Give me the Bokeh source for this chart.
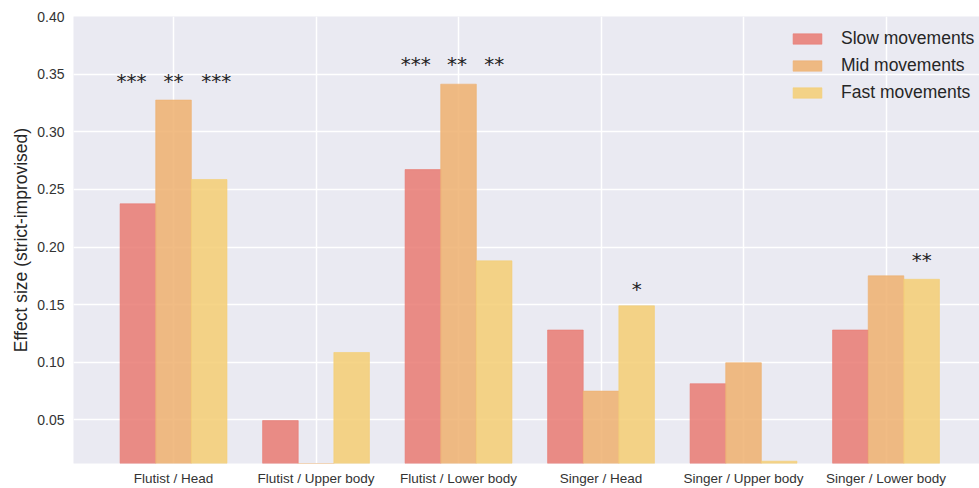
from bokeh.plotting import figure
from bokeh.models import FixedTicker, NumeralTickFormatter, Range1d, Legend, LegendItem, ColumnDataSource
from bokeh.core.properties import value
from bokeh.embed import file_html
from bokeh.resources import INLINE

categories = ["Flutist / Head", "Flutist / Upper body", "Flutist / Lower body",
              "Singer / Head", "Singer / Upper body", "Singer / Lower body"]
series_names = ["Slow movements", "Mid movements", "Fast movements"]
slow = [0.2375, 0.0494, 0.2672, 0.128, 0.0814, 0.128]
mid = [0.3275, 0.0, 0.3413, 0.075, 0.0996, 0.175]
fast = [0.2586, 0.1085, 0.188, 0.149, 0.0142, 0.172]
y_ticks = [0.05, 0.10, 0.15, 0.20, 0.25, 0.30, 0.35, 0.40]

# significance markers: category index, x shift (in category units), y value, text
star_cat = [0, 0, 0, 2, 2, 2, 3, 5]
star_shift = [-0.295, 0.0, 0.30, -0.30, -0.01, 0.25, 0.25, 0.25]
star_y = [0.3437, 0.3437, 0.3437, 0.3584, 0.3584, 0.3584, 0.1637, 0.1889]
star_text = ["***", "**", "***", "***", "**", "**", "*", "**"]

colors = ["#E97A72", "#EFB06F", "#F5CE73"]
bar_w = 0.25
offsets = [-0.25, 0.0, 0.25]

p = figure(width=979, height=488, output_backend="svg", toolbar_location=None,
           x_range=Range1d(-0.702, 5.656), y_range=Range1d(0.0122, 0.40),
           min_border_left=73, min_border_right=0, min_border_top=16, min_border_bottom=25)
p.background_fill_color = "#EAEAF2"
p.border_fill_color = "white"
p.outline_line_color = None

legend_items = []
for data, name, col, off in zip([slow, mid, fast], series_names, colors, offsets):
    src = ColumnDataSource(dict(x=[i + off for i in range(len(categories))], top=data))
    r = p.vbar(x="x", top="top", bottom=0, width=bar_w, source=src,
               fill_color=col, fill_alpha=0.85, line_color=col, line_alpha=0.6, line_width=1)
    legend_items.append(LegendItem(label=name, renderers=[r]))

star_src = ColumnDataSource(dict(x=[c + s for c, s in zip(star_cat, star_shift)], y=star_y, t=star_text))
p.text(x="x", y="y", text="t", source=star_src, text_align="center", text_baseline="middle",
       text_font=value("DejaVu Sans"), text_font_size="20px", text_color="#1f1f1f")

legend = Legend(items=legend_items, location=(716, 360), background_fill_alpha=0.0,
                border_line_color=None, label_text_font="Liberation Sans",
                label_text_font_size="17.5px", label_text_color="#262626",
                glyph_width=36, glyph_height=13, spacing=6, padding=2, margin=0,
                label_standoff=16)
p.add_layout(legend)

# axes
p.xaxis.ticker = FixedTicker(ticks=list(range(len(categories))))
p.xaxis.major_label_overrides = {i: c for i, c in enumerate(categories)}
p.yaxis.ticker = FixedTicker(ticks=y_ticks)
p.yaxis.formatter = NumeralTickFormatter(format="0.00")
p.yaxis.axis_label = "Effect size (strict-improvised)"
for ax in [p.xaxis[0], p.yaxis[0]]:
    ax.axis_line_color = None
    ax.major_tick_line_color = None
    ax.minor_tick_line_color = None
    ax.major_tick_out = 0
    ax.major_tick_in = 0
    ax.minor_tick_out = 0
    ax.minor_tick_in = 0
    ax.major_label_text_font = "Liberation Sans"
    ax.major_label_text_color = "#333333"
p.xaxis.major_label_text_font_size = "13.5px"
p.yaxis.major_label_text_font_size = "14px"
p.xaxis.major_label_standoff = 7
p.yaxis.major_label_standoff = 9
p.yaxis.axis_label_text_font = "Liberation Sans"
p.yaxis.axis_label_text_font_size = "17.5px"
p.yaxis.axis_label_text_font_style = "normal"
p.yaxis.axis_label_text_color = "#262626"
p.yaxis.axis_label_standoff = 3

p.xgrid.grid_line_color = "white"
p.xgrid.grid_line_width = 1.5
p.ygrid.grid_line_color = "white"
p.ygrid.grid_line_width = 1.5
p.xgrid.ticker = FixedTicker(ticks=list(range(len(categories))))
p.ygrid.ticker = FixedTicker(ticks=y_ticks)
p.grid.level = "underlay"

open("out.html", "w").write(file_html(p, INLINE))
